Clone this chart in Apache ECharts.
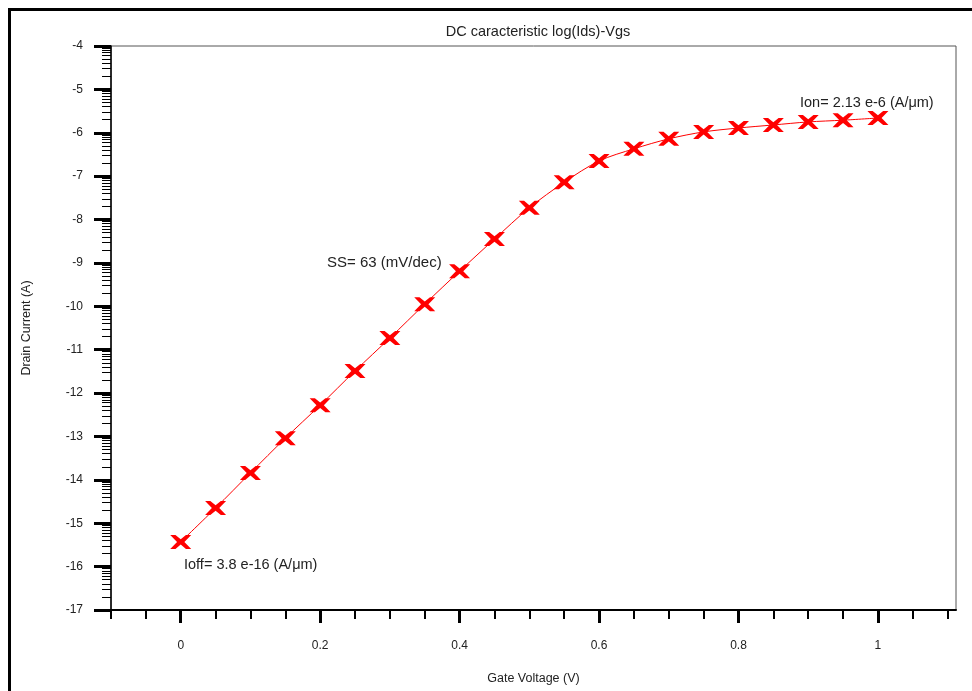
<!DOCTYPE html>
<html>
<head>
<meta charset="utf-8">
<script src="https://cdn.jsdelivr.net/npm/echarts@6/dist/echarts.min.js"></script>
<style>
html,body{margin:0;padding:0;background:#fff;}
#chart{width:972px;height:691px;}
</style>
</head>
<body>
<div id="chart"></div>
<script>
// Data (Vgs in V, log10(Ids))
const vgs = [0,0.05,0.1,0.15,0.2,0.25,0.3,0.35,0.4,0.45,0.5,0.55,0.6,0.65,0.7,0.75,0.8,0.85,0.9,0.95,1.0];
const logIds = [-15.43,-14.65,-13.84,-13.04,-12.28,-11.49,-10.73,-9.95,-9.19,-8.45,-7.73,-7.14,-6.65,-6.37,-6.14,-5.98,-5.89,-5.82,-5.75,-5.71,-5.66];
const xLabelValues = [0,0.2,0.4,0.6,0.8,1];
const xMinorTicks = [-0.1,-0.05,0,0.05,0.1,0.15,0.2,0.25,0.3,0.35,0.4,0.45,0.5,0.55,0.6,0.65,0.7,0.75,0.8,0.85,0.9,0.95,1,1.05,1.1];
const yDecades = [-17,-16,-15,-14,-13,-12,-11,-10,-9,-8,-7,-6,-5,-4];
const minorMultipliers = [2,3,4,5,6,7,8,9];
const titleText = 'DC caracteristic log(Ids)-Vgs';
const xName = 'Gate Voltage (V)';
const yName = 'Drain Current (A)';
const notes = ['SS= 63 (mV/dec)','Ion= 2.13 e-6 (A/\u03bcm)','Ioff= 3.8 e-16 (A/\u03bcm)'];

const yMinor = [];
yDecades.slice(0,-1).forEach(d => minorMultipliers.forEach(k => yMinor.push(+(d + Math.log10(k)).toFixed(4))));

const FONT = 'Liberation Sans, Arial, sans-serif';
const chart = echarts.init(document.getElementById('chart'), null, {renderer:'canvas'});
const xmin = -0.1, xmax = 1.112, ymin = -17, ymax = -4;
const xLbl = v => String(Math.round(v*10)/10);
const xMarker = 'path://M0,0 L5,0 L10,4 L15,0 L20,0 L13.5,6.5 L20,13 L15,13 L10,9 L5,13 L0,13 L6.5,6.5 Z';

chart.setOption({
  animation:false,
  backgroundColor:'#fff',
  title:{text:titleText, left:533, top:19, textAlign:'center',
    textStyle:{fontFamily:FONT, fontSize:14.5, fontWeight:'normal', color:'#222'}},
  grid:{left:111, top:46, right:16, bottom:81, show:true, borderColor:'#555', borderWidth:1, backgroundColor:'#fff',
    containLabel:false, outerBoundsMode:'none'},
  xAxis:[
    {type:'value', min:xmin, max:xmax, position:'bottom',
      name:xName, nameLocation:'middle', nameGap:62,
      nameTextStyle:{fontFamily:FONT, fontSize:12.5, color:'#222'},
      axisLine:{show:true, onZero:false, lineStyle:{color:'#000', width:2}},
      axisTick:{show:true, customValues:xMinorTicks, length:9, lineStyle:{color:'#000', width:2}},
      axisLabel:{show:true, customValues:xLabelValues, formatter:xLbl, margin:30,
        fontFamily:FONT, fontSize:12, color:'#222'},
      splitLine:{show:false}},
    {type:'value', min:xmin, max:xmax, position:'bottom', offset:0,
      axisLine:{show:false, onZero:false},
      axisTick:{show:true, customValues:xLabelValues, length:13, lineStyle:{color:'#000', width:3}},
      axisLabel:{show:false}, splitLine:{show:false}}
  ],
  yAxis:[
    {type:'value', min:ymin, max:ymax, interval:1, position:'left',
      name:yName, nameLocation:'middle', nameGap:78, nameRotate:90,
      nameTextStyle:{fontFamily:FONT, fontSize:12.5, color:'#222'},
      axisLine:{show:true, onZero:false, lineStyle:{color:'#000', width:1.5}},
      axisTick:{show:true, length:17, lineStyle:{color:'#000', width:3}},
      axisLabel:{show:true, margin:28, fontFamily:FONT, fontSize:12, color:'#222'},
      splitLine:{show:false}},
    {type:'value', min:ymin, max:ymax, position:'left', offset:0,
      axisLine:{show:false, onZero:false},
      axisTick:{show:true, customValues:yMinor, length:9, lineStyle:{color:'#000', width:1}},
      axisLabel:{show:false}, splitLine:{show:false}}
  ],
  series:[{
    type:'line', xAxisIndex:0, yAxisIndex:0,
    data: vgs.map((v,i)=>[v, logIds[i]]),
    smooth:0.3,
    symbol:xMarker, symbolSize:[21,14],
    itemStyle:{color:'#ff0000'},
    lineStyle:{color:'#ff0000', width:1}
  }],
  graphic:[
    {type:'rect', shape:{x:8, y:8, width:964, height:3}, style:{fill:'#000'}, silent:true},
    {type:'rect', shape:{x:8, y:8, width:3, height:683}, style:{fill:'#000'}, silent:true},
    {type:'text', left:327, top:255, style:{text:notes[0], font:'15px '+FONT, fill:'#222'}},
    {type:'text', left:800, top:95, style:{text:notes[1], font:'14.5px '+FONT, fill:'#222'}},
    {type:'text', left:184, top:557, style:{text:notes[2], font:'14.5px '+FONT, fill:'#222'}}
  ]
});
</script>
</body>
</html>
